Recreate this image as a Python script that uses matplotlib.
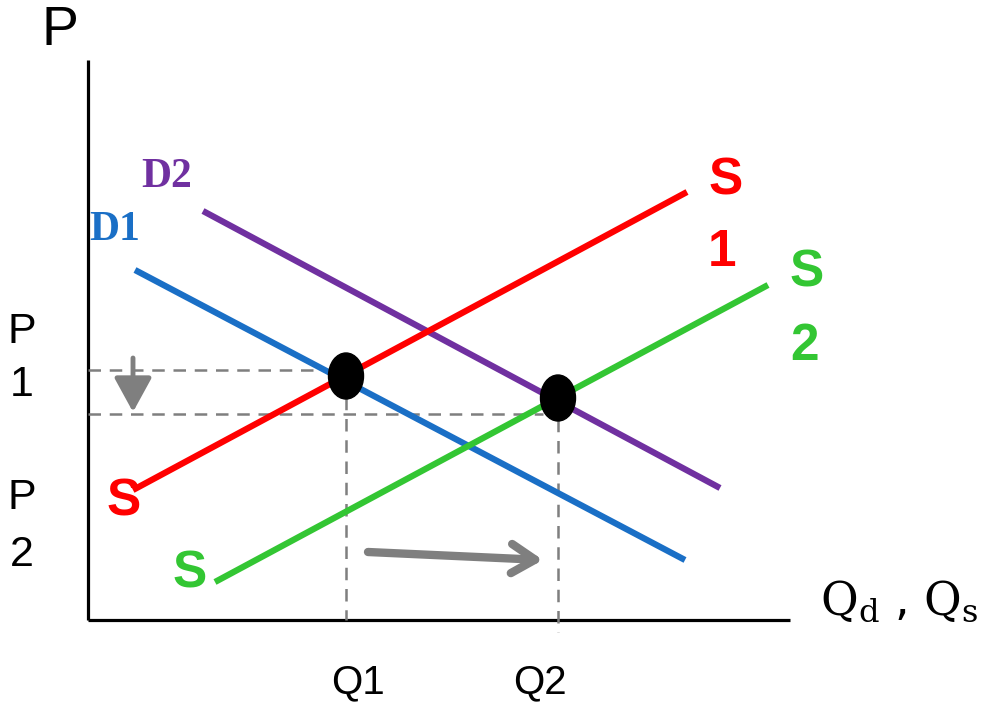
import matplotlib
matplotlib.use("Agg")
import matplotlib.pyplot as plt
from matplotlib.patches import Ellipse

plt.rcParams['mathtext.fontset'] = 'dejavuserif'

# ---- schematic data (origin at the axes corner) ----
axis_x_end = 702
axis_y_end = 560

D1 = ([47, 597], [350, 60])
D2 = ([115, 632], [409, 132])
S1 = ([45, 599], [130, 428])
S2 = ([127, 680], [38, 335])

eq_q = [258, 470]
eq_p = [244, 222]
P1_level = 250
P2_level = 206
Q2_dash_bottom = -12

down_arrow_x = 45
down_arrow_y = [262, 208]
right_arrow_x = [280, 455]
right_arrow_y = [68, 60]

c_red = '#ff0000'
c_blue = '#1a6fc6'
c_purple = '#7030a0'
c_green = '#33c633'
c_gray = '#7f7f7f'

fig = plt.figure(figsize=(9.84, 7.03), dpi=100)
ax = fig.add_axes([0, 0, 1, 1])
ax.set_xlim(-88, 896)
ax.set_ylim(-83, 620)
ax.axis('off')

# axes lines
ax.plot([0, 0], [0, axis_y_end], color='black', lw=2.3, solid_capstyle='butt')
ax.plot([0, axis_x_end], [0, 0], color='black', lw=2.3, solid_capstyle='butt')

# dashed guides
dash = dict(color=c_gray, lw=1.8, dashes=(5, 3.5))
ax.plot([0, eq_q[0]], [P1_level, P1_level], **dash)
ax.plot([0, eq_q[1] - 15], [P2_level, P2_level], **dash)
ax.plot([eq_q[0], eq_q[0]], [eq_p[0], 0], **dash)
ax.plot([eq_q[1], eq_q[1]], [eq_p[1], Q2_dash_bottom], **dash)

# curves
lw = 4.5
ax.plot(*D1, color=c_blue, lw=lw, solid_capstyle='butt')
ax.plot(*D2, color=c_purple, lw=lw, solid_capstyle='butt')
ax.plot(*S1, color=c_red, lw=lw, solid_capstyle='butt')
ax.plot(*S2, color=c_green, lw=lw, solid_capstyle='butt')

# equilibrium points
for q, p in zip(eq_q, eq_p):
    ax.add_patch(Ellipse((q, p), 35, 46, color='black', zorder=5))

# arrows
ax.annotate('', xy=(down_arrow_x, down_arrow_y[1]), xytext=(down_arrow_x, down_arrow_y[0]),
            arrowprops=dict(arrowstyle='-|>,head_length=2.1,head_width=1.15',
                            color=c_gray, lw=3.5, shrinkA=0, shrinkB=0))
ax.annotate('', xy=(right_arrow_x[1], right_arrow_y[1]), xytext=(right_arrow_x[0], right_arrow_y[0]),
            arrowprops=dict(arrowstyle='->,head_length=1.7,head_width=1.05',
                            color=c_gray, lw=6, shrinkA=0, shrinkB=0,
                            capstyle='round', joinstyle='round'))

# labels
sans = 'Liberation Sans'
serif = 'Liberation Serif'
ax.text(-28, 589, 'P', fontsize=40, family=sans, ha='center', va='center')
ax.text(-66, 288, 'P', fontsize=31, family=sans, ha='center', va='center')
ax.text(-66, 235, '1', fontsize=31, family=sans, ha='center', va='center')
ax.text(-66, 122, 'P', fontsize=31, family=sans, ha='center', va='center')
ax.text(-66, 65, '2', fontsize=31, family=sans, ha='center', va='center')

ax.text(79, 443, 'D2', fontsize=30, family=serif, weight='bold', color=c_purple, ha='center', va='center')
ax.text(27, 390, 'D1', fontsize=30, family=serif, weight='bold', color=c_blue, ha='center', va='center')

ax.text(36, 118, 'S', fontsize=37, family=sans, weight='bold', color=c_red, ha='center', va='center')
ax.text(102, 46, 'S', fontsize=37, family=sans, weight='bold', color=c_green, ha='center', va='center')
ax.text(638, 439, 'S', fontsize=37, family=sans, weight='bold', color=c_red, ha='center', va='center')
ax.text(634, 368, '1', fontsize=37, family=sans, weight='bold', color=c_red, ha='center', va='center')
ax.text(719, 347, 'S', fontsize=37, family=sans, weight='bold', color=c_green, ha='center', va='center')
ax.text(716, 273, '2', fontsize=37, family=sans, weight='bold', color=c_green, ha='center', va='center')

ax.text(811, 18, r'$\mathrm{Q_d}$ , $\mathrm{Q_s}$', fontsize=33, ha='center', va='center')

ax.text(270, -62, 'Q1', fontsize=29, family=sans, ha='center', va='center')
ax.text(452, -62, 'Q2', fontsize=29, family=sans, ha='center', va='center')

fig.savefig('out.png', dpi=100, facecolor='white')
